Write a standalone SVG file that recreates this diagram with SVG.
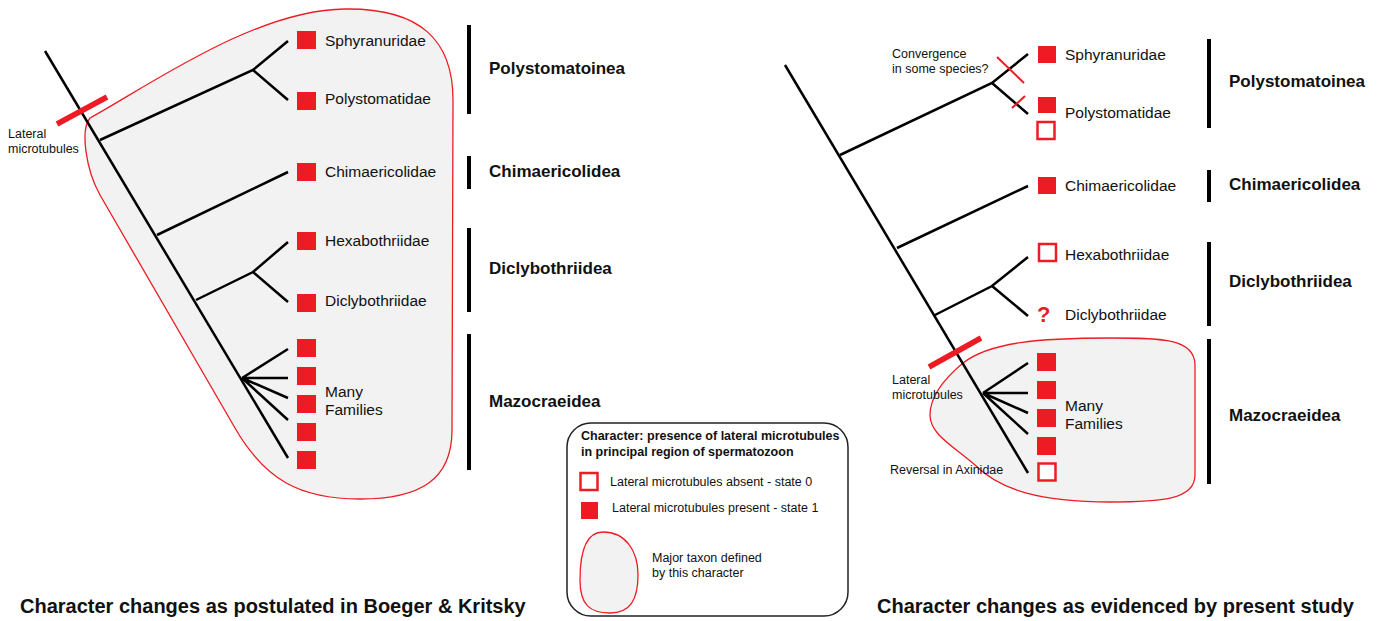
<svg xmlns="http://www.w3.org/2000/svg" width="1380" height="621" viewBox="0 0 1380 621">
<defs>
<style>
text{font-family:"Liberation Sans",Arial,sans-serif;fill:#111}
.lab{font-size:15.5px}
.grp{font-size:17px;font-weight:bold}
.sm{font-size:12.5px}
.title{font-size:20px;font-weight:bold}
.tree{stroke:#000;stroke-width:2.5;fill:none;stroke-linecap:butt}
.bar{stroke:#000;stroke-width:4}
.full{fill:#ed1c24}
.empty{fill:#fff;stroke:#ed1c24;stroke-width:2.5}
.blob{fill:#f2f2f2;stroke:#ed1c24;stroke-width:1.3}
.mark{stroke:#ed1c24;stroke-width:5.5}
.tick{stroke:#ed1c24;stroke-width:2}
</style>
</defs>
<rect width="1380" height="621" fill="#fff"/>

<!-- LEFT PANEL -->
<g id="left-blob"><path class="blob" d="M90,118 C150,85 255,10 345,9 C420,8 453,40 453,100 L452,430 C452,480 420,499 360,499 C300,499 265,480 235,428 L100,195 C86,170 80,130 90,118 Z"/></g>
<g id="left-connectors">
<path class="tree" d="M45,51 L288,458"/>
<path class="tree" d="M100,140 L253,70 L288,41 M253,70 L288,100"/>
<path class="tree" d="M157,235 L288,172"/>
<path class="tree" d="M196,300 L253,272 L288,242 M253,272 L288,302"/>
<path class="tree" d="M242,378 L288,349 M242,378 L288,378 M242,378 L288,398 M242,378 L288,420"/>
</g>
<g id="left-lateral-mark">
<line class="mark" x1="57" y1="124" x2="107" y2="97"/>
<text class="sm" x="8" y="138">Lateral</text>
<text class="sm" x="8" y="153">microtubules</text>
</g>
<g id="L-sphyranuridae"><rect class="full" x="297" y="31" width="19" height="18"/><text class="lab" x="325" y="46">Sphyranuridae</text></g>
<g id="L-polystomatidae"><rect class="full" x="297" y="92" width="19" height="18"/><text class="lab" x="325" y="104">Polystomatidae</text></g>
<g id="L-chimaericolidae"><rect class="full" x="297" y="163" width="19" height="18"/><text class="lab" x="325" y="177">Chimaericolidae</text></g>
<g id="L-hexabothriidae"><rect class="full" x="297" y="232" width="19" height="18"/><text class="lab" x="325" y="246">Hexabothriidae</text></g>
<g id="L-diclybothriidae"><rect class="full" x="297" y="294" width="19" height="18"/><text class="lab" x="325" y="306">Diclybothriidae</text></g>
<g id="L-many-families">
<rect class="full" x="297" y="339" width="19" height="18"/>
<rect class="full" x="297" y="367" width="19" height="18"/>
<rect class="full" x="297" y="395" width="19" height="18"/>
<rect class="full" x="297" y="423" width="19" height="18"/>
<rect class="full" x="297" y="451" width="19" height="18"/>
<text class="lab" x="325" y="397">Many</text>
<text class="lab" x="325" y="415">Families</text>
</g>
<g id="L-polystomatoinea"><line class="bar" x1="469" y1="25" x2="469" y2="114"/><text class="grp" x="489" y="74">Polystomatoinea</text></g>
<g id="L-chimaericolidea"><line class="bar" x1="469" y1="156" x2="469" y2="189"/><text class="grp" x="489" y="177">Chimaericolidea</text></g>
<g id="L-diclybothriidea"><line class="bar" x1="469" y1="228" x2="469" y2="312"/><text class="grp" x="489" y="274">Diclybothriidea</text></g>
<g id="L-mazocraeidea"><line class="bar" x1="469" y1="334" x2="469" y2="470"/><text class="grp" x="489" y="407">Mazocraeidea</text></g>
<g id="left-title"><text class="title" x="20" y="613">Character changes as postulated in Boeger &amp; Kritsky</text></g>

<!-- RIGHT PANEL -->
<g id="right-blob"><path class="blob" d="M963,363 C990,342 1040,338 1110,338 C1160,338 1195,338 1195,365 L1195,475 C1195,500 1160,502 1110,502 C1040,502 1000,490 975,465 C955,447 930,435 930,415 C930,395 945,378 963,363 Z"/></g>
<g id="right-connectors">
<path class="tree" d="M785,65 L1028,473"/>
<path class="tree" d="M840,155 L992,83 L1028,54 M992,83 L1028,114"/>
<path class="tree" d="M897,248 L1028,186"/>
<path class="tree" d="M935,315 L992,286 L1028,257 M992,286 L1028,316"/>
<path class="tree" d="M983,393 L1028,363 M983,393 L1028,393 M983,393 L1028,413 M983,393 L1028,434"/>
</g>
<g id="convergence">
<line class="tick" x1="997" y1="57" x2="1024" y2="83"/>
<line class="tick" x1="1012" y1="108" x2="1025" y2="96"/>
<text class="sm" x="892" y="58">Convergence</text>
<text class="sm" x="892" y="73">in some species?</text>
</g>
<g id="right-lateral-mark">
<line class="mark" x1="929" y1="367" x2="981" y2="338"/>
<text class="sm" x="892" y="384">Lateral</text>
<text class="sm" x="892" y="399">microtubules</text>
</g>
<g id="reversal"><text class="sm" x="890" y="474">Reversal in Axinidae</text></g>
<g id="R-sphyranuridae"><rect class="full" x="1038" y="46" width="18" height="17"/><text class="lab" x="1065" y="60">Sphyranuridae</text></g>
<g id="R-polystomatidae"><rect class="full" x="1038" y="97" width="18" height="16"/><rect class="empty" x="1037.5" y="122" width="17" height="17"/><text class="lab" x="1065" y="118">Polystomatidae</text></g>
<g id="R-chimaericolidae"><rect class="full" x="1038" y="177" width="18" height="17"/><text class="lab" x="1065" y="191">Chimaericolidae</text></g>
<g id="R-hexabothriidae"><rect class="empty" x="1039" y="244" width="17" height="17"/><text class="lab" x="1065" y="260">Hexabothriidae</text></g>
<g id="R-diclybothriidae"><text x="1037" y="322" style="font-size:22px;font-weight:bold;fill:#ed1c24">?</text><text class="lab" x="1065" y="320">Diclybothriidae</text></g>
<g id="R-many-families">
<rect class="full" x="1037" y="353" width="19" height="18"/>
<rect class="full" x="1037" y="381" width="19" height="18"/>
<rect class="full" x="1037" y="409" width="19" height="18"/>
<rect class="full" x="1037" y="437" width="19" height="18"/>
<rect class="empty" x="1038.5" y="463.5" width="17" height="17"/>
<text class="lab" x="1065" y="411">Many</text>
<text class="lab" x="1065" y="429">Families</text>
</g>
<g id="R-polystomatoinea"><line class="bar" x1="1209" y1="39" x2="1209" y2="128"/><text class="grp" x="1229" y="87">Polystomatoinea</text></g>
<g id="R-chimaericolidea"><line class="bar" x1="1209" y1="170" x2="1209" y2="202"/><text class="grp" x="1229" y="190">Chimaericolidea</text></g>
<g id="R-diclybothriidea"><line class="bar" x1="1209" y1="242" x2="1209" y2="326"/><text class="grp" x="1229" y="287">Diclybothriidea</text></g>
<g id="R-mazocraeidea"><line class="bar" x1="1209" y1="339" x2="1209" y2="484"/><text class="grp" x="1229" y="421">Mazocraeidea</text></g>
<g id="right-title"><text class="title" x="877" y="613">Character changes as evidenced by present study</text></g>

<!-- LEGEND -->
<g id="legend">
<rect x="567" y="423" width="281" height="193" rx="24" ry="24" fill="#fff" stroke="#222" stroke-width="1.5"/>
<text class="sm" x="581" y="440" style="font-weight:bold">Character: presence of lateral microtubules</text>
<text class="sm" x="581" y="456" style="font-weight:bold">in principal region of spermatozoon</text>
<rect class="empty" x="580.5" y="473" width="17" height="17"/>
<text class="sm" x="610" y="486">Lateral microtubules absent - state 0</text>
<rect class="full" x="581" y="502" width="17" height="17"/>
<text class="sm" x="612" y="512">Lateral microtubules present - state 1</text>
<path class="blob" d="M603,532 C625,532 638,550 638,575 C638,600 630,613 610,613 C590,613 580,605 580,580 C580,555 585,532 603,532 Z"/>
<text class="sm" x="652" y="562">Major taxon defined</text>
<text class="sm" x="652" y="577">by this character</text>
</g>
</svg>
